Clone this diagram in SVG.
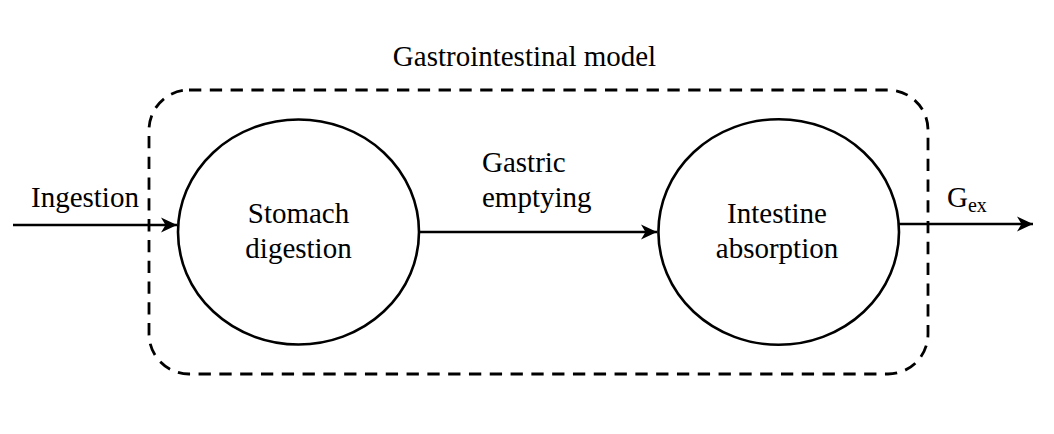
<svg xmlns="http://www.w3.org/2000/svg" width="1054" height="434" viewBox="0 0 1054 434">
<style>
.t{font-family:'Liberation Serif',Tinos,'Times New Roman',Times,'DejaVu Serif',serif;font-size:29px;fill:#000}
.node{fill:#fff;stroke:#000;stroke-width:2.6}
.conn{stroke:#000;stroke-width:2.6;fill:none}
.frame{fill:none;stroke:#000;stroke-width:2.8;stroke-dasharray:12.3 8.5}
</style>
<defs>
<marker id="arr" markerUnits="userSpaceOnUse" markerWidth="20" markerHeight="20" viewBox="-17 -10 20 20" refX="0" refY="0" orient="auto">
<path d="M0,0 L-16,-7.5 L-11.5,0 L-16,7.5 Z" fill="#000"/>
</marker>
</defs>
<rect width="1054" height="434" fill="#fff"/>
<g id="gi-model">
<rect class="frame" x="149" y="90" width="779" height="284" rx="40" ry="40"/>
<text class="t" font-family="Liberation Serif, serif" x="524.5" y="66" text-anchor="middle">Gastrointestinal model</text>
</g>
<g id="connectors">
<path class="conn" d="M13,225 L177,225" marker-end="url(#arr)"/>
<text class="t" x="31" y="207">Ingestion</text>
<path class="conn" d="M420,232 L657,232" marker-end="url(#arr)"/>
<text class="t" x="482" y="172">Gastric</text>
<text class="t" x="482" y="207">emptying</text>
<path class="conn" d="M899,224 L1033,224" marker-end="url(#arr)"/>
<text class="t" x="947" y="207">G<tspan font-size="20" dy="5">ex</tspan></text>
</g>
<g id="stomach">
<ellipse class="node" cx="298.5" cy="232" rx="120.5" ry="112.5"/>
<text class="t" x="298.5" y="223" text-anchor="middle">Stomach</text>
<text class="t" x="298.5" y="258" text-anchor="middle">digestion</text>
</g>
<g id="intestine">
<ellipse class="node" cx="778.7" cy="232" rx="120.3" ry="112.8"/>
<text class="t" x="777" y="223" text-anchor="middle">Intestine</text>
<text class="t" x="777" y="258" text-anchor="middle">absorption</text>
</g>
</svg>
